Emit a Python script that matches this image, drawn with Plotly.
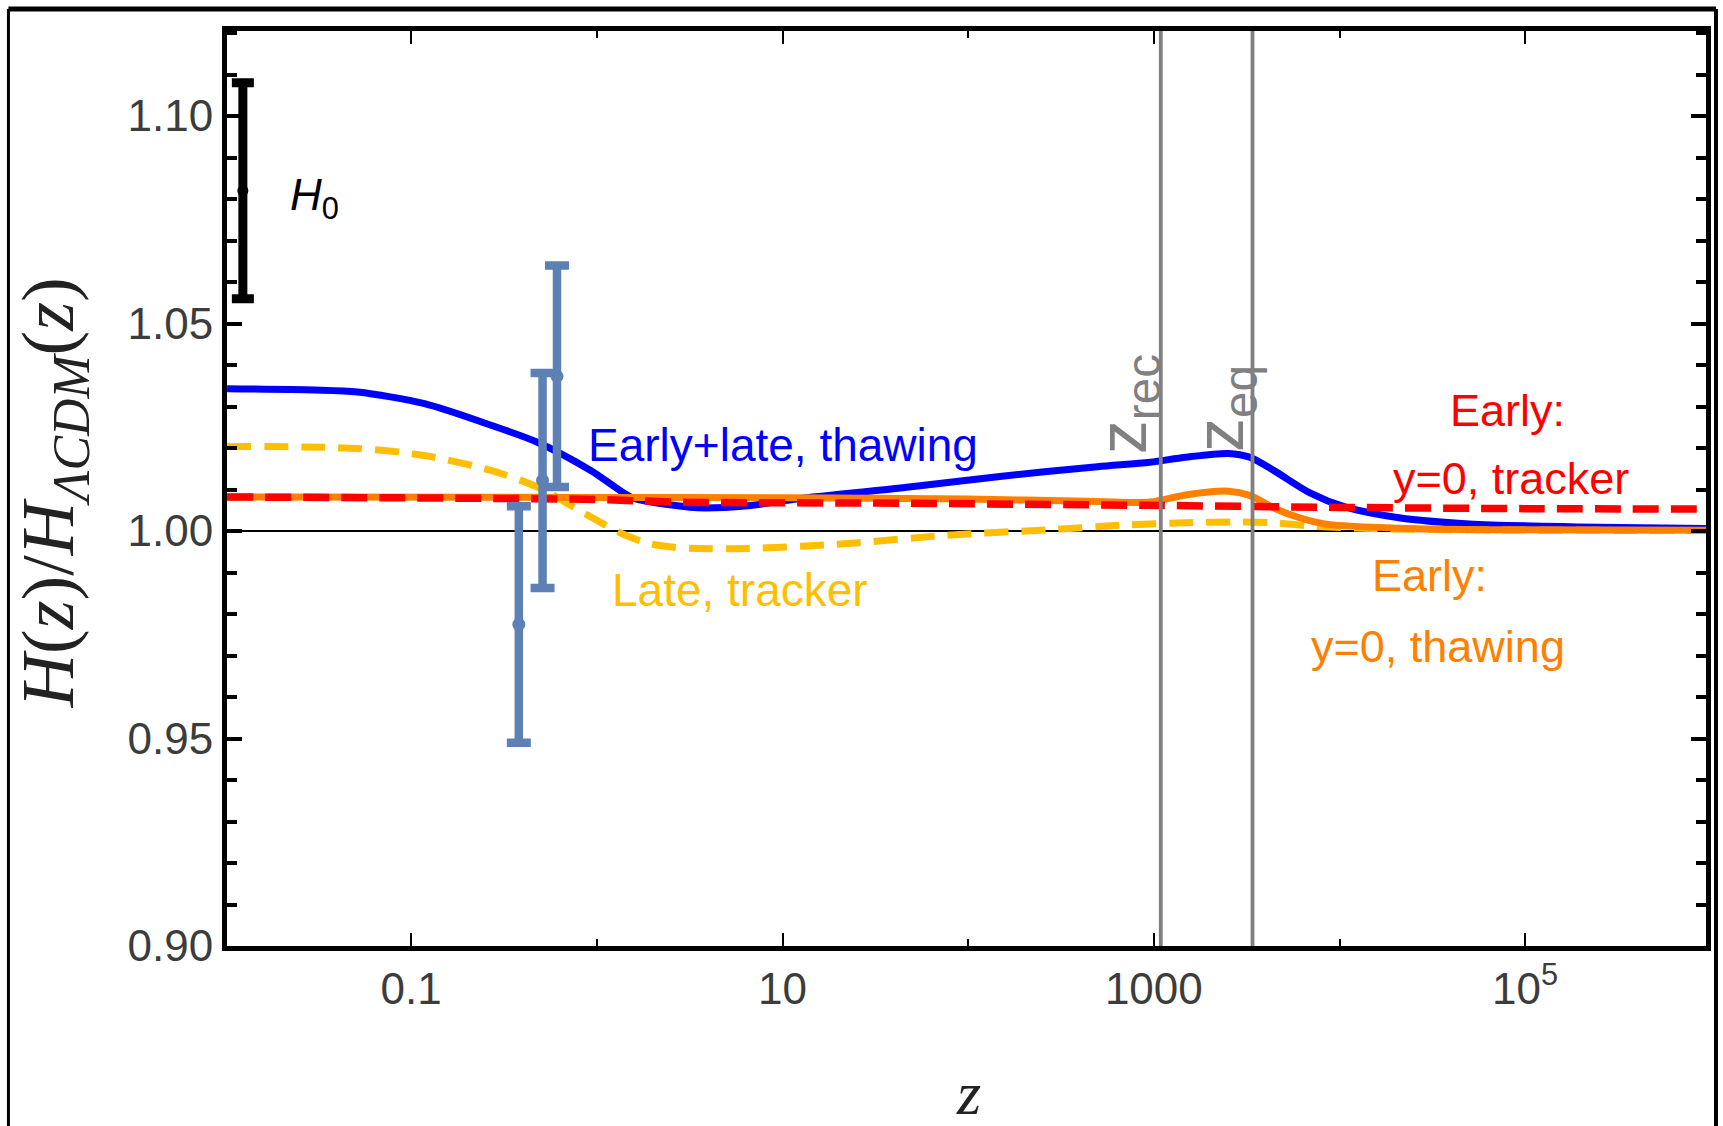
import plotly.graph_objects as go

# ---------------- data ----------------
Z_BLUE = [0.0102, 0.03, 0.0515, 0.118, 0.269, 0.478, 0.927, 1.52, 1.9, 2.6, 3.5, 6.5, 12.2,
          42, 144, 496, 955, 1485, 2520, 3280, 4460, 6930, 10700, 20900, 50000, 190000, 940000]
H_BLUE = [1.0343, 1.0340, 1.0335, 1.0307, 1.0255, 1.0214, 1.0146, 1.0082, 1.0071, 1.0062, 1.0056,
          1.0061, 1.0078, 1.0103, 1.0131, 1.0155, 1.0166, 1.0178, 1.0187, 1.0178, 1.0145, 1.0092,
          1.0058, 1.0032, 1.0017, 1.0010, 1.0006]

Z_YELLOW = [0.0102, 0.0515, 0.118, 0.269, 0.478, 0.927, 1.36, 1.9, 2.6, 3.5, 6.5, 22.6, 77, 267,
            740, 1485, 2900, 4460, 6930, 15000, 50000, 940000]
H_YELLOW = [1.0204, 1.0199, 1.0182, 1.0146, 1.0106, 1.0034, 0.9994, 0.9970, 0.9961, 0.9958, 0.9958,
            0.9970, 0.9990, 1.0003, 1.0015, 1.0020, 1.0022, 1.0020, 1.0012, 1.0006, 1.0003, 1.0001]

Z_ORANGE = [0.0102, 1, 10, 100, 500, 955, 1485, 2520, 3280, 4460, 6090, 8700, 20900, 78000, 940000]
H_ORANGE = [1.0082, 1.0081, 1.0080, 1.0077, 1.0071, 1.0070, 1.0087, 1.0096, 1.0086, 1.0055, 1.0032,
            1.0016, 1.0007, 1.0003, 1.0002]

Z_RED = [0.0102, 1, 2.6, 42, 916, 10000, 100000, 940000]
H_RED = [1.0082, 1.0076, 1.0070, 1.0067, 1.0062, 1.0057, 1.0054, 1.0053]

BAO_Z = [0.38, 0.51, 0.61]
BAO_H = [0.9775, 1.0122, 1.0373]
BAO_ERR = [0.0285, 0.0259, 0.0267]

H0_Z = [0.0124]
H0_H = [1.082]
H0_ERR = [0.026]

Z_REC = 1090
Z_EQ = 3400

X_RANGE_LOG = [-1.992, 5.974]
Y_RANGE = [0.90, 1.1205]
X_TICKS = [0.1, 10, 1000, 1e5]
X_TICK_TEXT = ["0.1", "10", "1000", "10<sup>5</sup>"]
X_MINOR = [1, 100, 1e4]
Y_TICKS = [0.90, 0.95, 1.00, 1.05, 1.10]
Y_TICK_TEXT = ["0.90", "0.95", "1.00", "1.05", "1.10"]

# ---------------- layout geometry ----------------
W, H = 1723, 1126
ML, MR, MT, MB = 227, 14, 31, 180
PW, PH = W - ML - MR, H - MT - MB


def px(xp):
    return (xp - ML) / PW


def py(yp):
    return (H - MB - yp) / PH


SANS = "Liberation Sans, Arial, sans-serif"
SERIF = "Liberation Serif, Times New Roman, serif"

fig = go.Figure()

fig.add_trace(go.Scatter(x=Z_BLUE, y=H_BLUE, mode="lines", line=dict(color="#0000FF", width=7, shape="spline", smoothing=0.8)))
fig.add_trace(go.Scatter(x=Z_YELLOW, y=H_YELLOW, mode="lines", line=dict(color="#FFBF00", width=7, dash="24px,13px", shape="spline", smoothing=0.8)))
fig.add_trace(go.Scatter(x=Z_ORANGE, y=H_ORANGE, mode="lines", line=dict(color="#FF8000", width=7, shape="spline", smoothing=0.8)))
fig.add_trace(go.Scatter(x=Z_RED, y=H_RED, mode="lines", line=dict(color="#FF0000", width=7.5, dash="26px,12px", shape="spline", smoothing=0.8)))

fig.add_trace(go.Scatter(x=BAO_Z, y=BAO_H, mode="markers",
                         marker=dict(color="#5E81B5", size=13),
                         error_y=dict(type="data", array=BAO_ERR, color="#5E81B5", thickness=8.5, width=12)))
fig.add_trace(go.Scatter(x=H0_Z, y=H0_H, mode="markers",
                         marker=dict(color="black", size=11),
                         error_y=dict(type="data", array=H0_ERR, color="black", thickness=9, width=11)))

for zv in [Z_REC, Z_EQ]:
    fig.add_trace(go.Scatter(x=[zv, zv], y=Y_RANGE, mode="lines", line=dict(color="#808080", width=3.8)))

# horizontal reference line at 1
fig.add_shape(type="line", xref="paper", yref="y", x0=0, x1=1, y0=1.0, y1=1.0,
              line=dict(color="black", width=2), layer="below")

# outer frame
fig.add_shape(type="line", xref="paper", yref="paper", x0=px(8), x1=px(1719), y0=py(9), y1=py(9),
              line=dict(color="black", width=5))
fig.add_shape(type="line", xref="paper", yref="paper", x0=px(8), x1=px(8), y0=py(9), y1=py(1180),
              line=dict(color="black", width=3))
fig.add_shape(type="line", xref="paper", yref="paper", x0=px(1719), x1=px(1719), y0=py(9), y1=py(1180),
              line=dict(color="black", width=4))

ann = []


def text(t, xp, yp, color, size=44, family=SANS, angle=0):
    ann.append(dict(text=t, x=px(xp), y=py(yp), xref="paper", yref="paper", showarrow=False,
                    xanchor="center", yanchor="middle", textangle=angle,
                    font=dict(family=family, size=size, color=color)))


text("Early+late, thawing", 784, 445, "#0000FF", size=46)
text("Late, tracker", 741, 590, "#FFBF00", size=46)
text("Early:", 1510, 410, "#FF0000", size=45)
text("y=0, tracker", 1514, 478, "#FF0000", size=45)
text("Early:", 1432, 575, "#FF8000", size=45)
text("y=0, thawing", 1440, 646, "#FF8000", size=45)
text("z<sub>rec</sub>", 1129, 404, "#808080", size=68, angle=-90)
text("z<sub>eq</sub>", 1226, 408, "#808080", size=68, angle=-90)
text("<i>H</i><sub>0</sub>", 315, 198, "black", size=44)
text("<i>H</i>(<i>z</i>)/<i>H</i><sub><i>ΛCDM</i></sub>(<i>z</i>)", 54, 493, "#222", size=74, family=SERIF, angle=-90)
text("<i>z</i>", 970, 1093, "#222", size=62, family=SERIF)

fig.update_layout(
    width=W, height=H,
    margin=dict(l=ML, r=MR, t=MT, b=MB),
    paper_bgcolor="white", plot_bgcolor="white",
    showlegend=False,
    annotations=ann,
    xaxis=dict(type="log", range=X_RANGE_LOG, tickmode="array", tickvals=X_TICKS, ticktext=X_TICK_TEXT,
               ticks="inside", ticklen=13, tickwidth=2, tickcolor="black",
               showline=True, linewidth=5, linecolor="black", mirror="allticks",
               showgrid=False, zeroline=False, ticklabelstandoff=0,
               tickfont=dict(family=SANS, size=44, color="#3c3c3c"),
               minor=dict(tickmode="array", tickvals=X_MINOR, ticks="inside", ticklen=7, tickwidth=2,
                          tickcolor="black", showgrid=False)),
    yaxis=dict(range=Y_RANGE, tickmode="array", tickvals=Y_TICKS, ticktext=Y_TICK_TEXT,
               ticks="inside", ticklen=15, tickwidth=4, tickcolor="black",
               showline=True, linewidth=5, linecolor="black", mirror="allticks",
               showgrid=False, zeroline=False, ticklabelstandoff=0,
               tickfont=dict(family=SANS, size=44, color="#3c3c3c"),
               minor=dict(tickmode="linear", tick0=0.90, dtick=0.01, ticks="inside", ticklen=10, tickwidth=4,
                          tickcolor="black", showgrid=False)),
)

fig.write_html("out.html")
